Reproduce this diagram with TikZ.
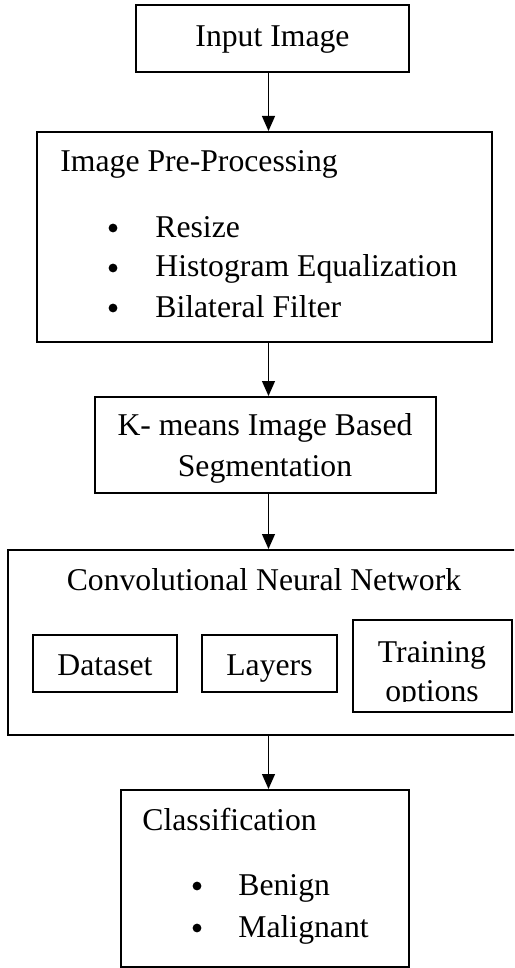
\documentclass[tikz,border=0pt]{standalone}
\usepackage{fontspec}
\setmainfont{Liberation Serif}
\usepackage{tikz}
\usetikzlibrary{arrows.meta}

\tikzset{
  box/.style={draw, line width=1pt, inner sep=0pt},
  label/.style={inner sep=0pt, font=\fontsize{15.85pt}{20pt}\selectfont},
  dot/.style={circle, fill, inner sep=0pt, minimum size=4.4pt},
  flow/.style={line width=0.6pt, -{Triangle[width=6.5pt,length=7.5pt]}}
}

\begin{document}
\begin{tikzpicture}[x=0.5pt, y=-0.5pt]
      \useasboundingbox (0,0) rectangle (514,968);
      \clip (0,0) rectangle (514,968);
      \coordinate (spine) at (268.5,0);

      % Input
      \node[box, minimum width=136.5pt, minimum height=33.5pt] (input) at (272.5,38.5) {};
      \node[label, anchor=base] (inputtxt) at (272.5,47) {Input Image};

      % Pre-processing
      \node[box, minimum width=227.5pt, minimum height=105pt] (prep) at (264.5,237) {};
      \node[label, anchor=base west] (preptitle) at (60,172) {Image Pre-Processing};
      \foreach \name/\txt/\yy in {resize/Resize/237, histeq/Histogram Equalization/277, bilat/Bilateral Filter/317} {
        \node[dot] (\name-dot) at (113,\yy-9) {};
        \node[label, anchor=base west] (\name) at (155,\yy) {\txt};
      }

      % Segmentation
      \node[box, minimum width=170.5pt, minimum height=48pt] (kmeans) at (265.5,445) {};
      \node[label, anchor=base] (kmeans1) at (265,435) {K- means Image Based};
      \node[label, anchor=base] (kmeans2) at (265,476) {Segmentation};

      % CNN
      \node[box, minimum width=257pt, minimum height=92.5pt] (cnn) at (265,642.5) {};
      \node[label, anchor=base] (cnntitle) at (264,590) {Convolutional Neural Network};
      \node[box, minimum width=72pt, minimum height=28.5pt] (dataset) at (105,663.5) {};
      \node[label, anchor=base] (datasettxt) at (105,675) {Dataset};
      \node[box, minimum width=67.5pt, minimum height=28.5pt] (layers) at (269.5,663.5) {};
      \node[label, anchor=base] (layerstxt) at (269.5,675) {Layers};
      \node[box, minimum width=79.5pt, minimum height=46pt] (training) at (432.5,666) {};
      \begin{scope}
        \clip (training.north west) rectangle ([yshift=6pt]training.south east);
        \node[label, anchor=base] (training1) at (432,662) {Training};
        \node[label, anchor=base] (training2) at (432,701) {options};
      \end{scope}

      % Classification
      \node[box, minimum width=144pt, minimum height=88.5pt] (classify) at (265,878.5) {};
      \node[label, anchor=base west] (classtitle) at (142,830) {Classification};
      \foreach \name/\txt/\yy in {benign/Benign/895, malig/Malignant/937} {
        \node[dot] (\name-dot) at (197,\yy-9) {};
        \node[label, anchor=base west] (\name) at (238,\yy) {\txt};
      }

      % Arrows
      \draw[flow] (input.south -| spine) -- (prep.north -| spine);
      \draw[flow] (prep.south -| spine) -- (kmeans.north -| spine);
      \draw[flow] (kmeans.south -| spine) -- (cnn.north -| spine);
      \draw[flow] (cnn.south -| spine) -- (classify.north -| spine);
\end{tikzpicture}
\end{document}
